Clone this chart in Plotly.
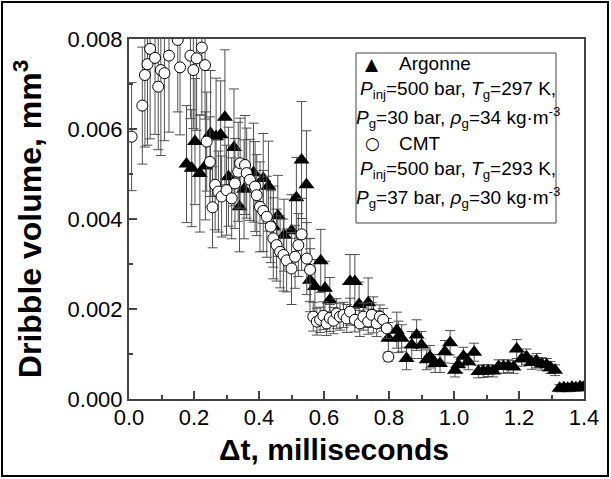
import plotly.graph_objects as go

# ---------------- data ----------------
cmt_t = [0.008, 0.041, 0.049, 0.057, 0.065, 0.080, 0.090, 0.098, 0.109, 0.123,
         0.150, 0.157, 0.189, 0.198, 0.208, 0.224, 0.234,
         0.239, 0.249, 0.257, 0.265, 0.275, 0.285, 0.300, 0.316, 0.326, 0.336,
         0.342, 0.357, 0.362, 0.372, 0.388, 0.393, 0.403, 0.413, 0.424, 0.436,
         0.444, 0.454, 0.465, 0.475, 0.485, 0.500, 0.511, 0.521, 0.531, 0.547,
         0.557,
         0.567, 0.578, 0.588, 0.598, 0.608, 0.618, 0.629, 0.639, 0.649, 0.660,
         0.670, 0.680, 0.695, 0.710, 0.721, 0.736, 0.747, 0.762, 0.772, 0.782,
         0.793, 0.798]
cmt_v = [0.00583, 0.00652, 0.00720, 0.00744, 0.00778, 0.00758, 0.00694, 0.00731, 0.00724, 0.00763,
         0.00798, 0.00737, 0.00763, 0.00731, 0.00757, 0.00781, 0.00742,
         0.00572, 0.00527, 0.00426, 0.00476, 0.00461, 0.00450, 0.00464, 0.00446, 0.00479, 0.00505,
         0.00524, 0.00520, 0.00502, 0.00487, 0.00472, 0.00453, 0.00427, 0.00418, 0.00405, 0.00383,
         0.00357, 0.00342, 0.00327, 0.00320, 0.00308, 0.00290, 0.00316, 0.00342, 0.00366, 0.00312,
         0.00287,
         0.00183, 0.00172, 0.00176, 0.00185, 0.00168, 0.00180, 0.00174, 0.00190, 0.00183, 0.00187,
         0.00179, 0.00194, 0.00176, 0.00168, 0.00183, 0.00172, 0.00187, 0.00168, 0.00183, 0.00176,
         0.00157, 0.00094]
cmt_err = [0.0012, 0.0013, 0.0016, 0.0018, 0.0020, 0.0017, 0.0014, 0.0019, 0.0015, 0.0017,
           0.0016, 0.0015, 0.0014, 0.0013, 0.0016, 0.0015, 0.0012,
           0.0011, 0.0010, 0.0009, 0.0010, 0.0009, 0.0009, 0.0010, 0.0009, 0.0010, 0.0011,
           0.0010, 0.0011, 0.0010, 0.0009, 0.0010, 0.0009, 0.0010, 0.0009, 0.0009, 0.0008,
           0.0009, 0.0008, 0.0008, 0.0008, 0.0007, 0.0008, 0.0007, 0.0007, 0.0008, 0.0008,
           0.0007,
           0.00032, 0.00030, 0.00028, 0.00031, 0.00027, 0.00030, 0.00029, 0.00033, 0.00030, 0.00028,
           0.00031, 0.00030, 0.00027, 0.00029, 0.00030, 0.00028, 0.00027, 0.00029, 0.00026, 0.00025,
           0.00022, 0.00010]

arg_t = [0.177, 0.193, 0.203, 0.218, 0.235, 0.251, 0.268, 0.282, 0.295, 0.306,
         0.323, 0.340, 0.354, 0.383, 0.413, 0.429, 0.444, 0.458, 0.477, 0.500,
         0.515, 0.531, 0.546, 0.557, 0.572, 0.590, 0.603, 0.618, 0.680, 0.695,
         0.708, 0.736, 0.752, 0.798, 0.824, 0.829, 0.839, 0.854, 0.870, 0.885,
         0.900, 0.916, 0.926, 0.942, 0.957, 0.972, 0.988, 1.003, 1.013, 1.029,
         1.044, 1.062, 1.075, 1.090, 1.105, 1.120, 1.137, 1.152, 1.167, 1.183,
         1.193, 1.208, 1.223, 1.239, 1.254, 1.270, 1.285, 1.297, 1.311, 1.325,
         1.338, 1.350, 1.363, 1.375, 1.388, 1.398]
arg_v = [0.00522, 0.00513, 0.00572, 0.00501, 0.00518, 0.00590, 0.00583, 0.00587, 0.00626, 0.00494,
         0.00559, 0.00427, 0.00466, 0.00503, 0.00490, 0.00473, 0.00383, 0.00407, 0.00364, 0.00374,
         0.00447, 0.00531, 0.00476, 0.00264, 0.00250, 0.00307, 0.00246, 0.00220, 0.00261, 0.00261,
         0.00210, 0.00214, 0.00187, 0.00135, 0.00153, 0.00138, 0.00135, 0.00090, 0.00120, 0.00142,
         0.00120, 0.00087, 0.00094, 0.00079, 0.00079, 0.00105, 0.00125, 0.00064, 0.00076, 0.00095,
         0.00083, 0.00104, 0.00061, 0.00062, 0.00063, 0.00062, 0.00072, 0.00072, 0.00073, 0.00071,
         0.00111, 0.00089, 0.00094, 0.00081, 0.00085, 0.00078, 0.00076, 0.00070, 0.00064, 0.00024,
         0.00025, 0.00024, 0.00026, 0.00025, 0.00027, 0.00026]
arg_err = [0.0013, 0.0013, 0.0014, 0.0013, 0.0012, 0.0014, 0.0013, 0.0012, 0.0015, 0.0011,
           0.0013, 0.0010, 0.0011, 0.0011, 0.0010, 0.0010, 0.0009, 0.0009, 0.0008, 0.0008,
           0.0009, 0.0013, 0.0012, 0.0007, 0.0006, 0.0007, 0.0006, 0.0005, 0.0006, 0.0006,
           0.0005, 0.00055, 0.0004, 0.00035, 0.0004, 0.00035, 0.0003, 0.00025, 0.0003, 0.00034,
           0.0003, 0.00022, 0.00025, 0.0002, 0.0002, 0.00025, 0.00027, 0.00015, 0.00017, 0.0002,
           0.00018, 0.0002, 0.00014, 0.00014, 0.00013, 0.00013, 0.00015, 0.00015, 0.00014, 0.00014,
           0.00021, 0.00016, 0.00017, 0.00015, 0.00016, 0.00014, 0.00014, 0.00013, 0.00012, 0.00008,
           0.00008, 0.00008, 0.00008, 0.00008, 0.00008, 0.00008]

x_ticks = [0.0, 0.2, 0.4, 0.6, 0.8, 1.0, 1.2, 1.4]
y_ticks = [0.000, 0.002, 0.004, 0.006, 0.008]

legend_lines = [
    ("\u25B2", "Argonne"),
    "<i>P</i><sub>inj</sub>=500 bar, <i>T</i><sub>g</sub>=297 K,",
    "<i>P</i><sub>g</sub>=30 bar, <i>\u03C1</i><sub>g</sub>=34 kg\u00B7m<sup>-3</sup>",
    ("\u25CB", "CMT"),
    "<i>P</i><sub>inj</sub>=500 bar, <i>T</i><sub>g</sub>=293 K,",
    "<i>P</i><sub>g</sub>=37 bar, <i>\u03C1</i><sub>g</sub>=30 kg\u00B7m<sup>-3</sup>",
]

# ---------------- figure ----------------
FONT = "Liberation Sans, Arial, sans-serif"
W, H = 611, 479
L, R, T, B = 129, 27, 39, 80
pw, ph = W - L - R, H - T - B


def px2paper(px, py):
    return (px - L) / pw, (H - B - py) / ph


fig = go.Figure()
fig.add_trace(go.Scatter(
    x=arg_t, y=arg_v, mode="markers", name="Argonne",
    marker=dict(symbol="triangle-up", size=14, color="black"),
    error_y=dict(type="data", array=arg_err, color="#505050", thickness=1, width=5),
))
fig.add_trace(go.Scatter(
    x=cmt_t, y=cmt_v, mode="markers", name="CMT",
    marker=dict(symbol="circle", size=11, color="white", line=dict(color="black", width=1)),
    error_y=dict(type="data", array=cmt_err, color="#505050", thickness=1, width=5),
))

axis_common = dict(
    showline=True, linecolor="#444444", linewidth=2, mirror=True,
    showgrid=False, zeroline=False, ticks="inside", ticklen=8, tickwidth=1.5,
    tickcolor="#444444", tickfont=dict(family=FONT, size=22, color="black"),
)
fig.update_xaxes(
    range=[0, 1.4], tickvals=x_ticks, ticktext=[f"{v:.1f}" for v in x_ticks],
    minor=dict(dtick=0.1, ticks="inside", ticklen=4, tickcolor="#444444", tickwidth=1.5),
    ticklabelstandoff=-2,
    **axis_common,
)
fig.update_yaxes(
    range=[0, 0.008], tickvals=y_ticks, ticktext=[f"{v:.3f}" for v in y_ticks],
    minor=dict(dtick=0.001, ticks="inside", ticklen=4, tickcolor="#444444", tickwidth=1.5),
    title=dict(text="<b>Dribble volume, mm<sup>3</sup></b>", font=dict(family=FONT, size=32, color="black"),
               standoff=16),
    **axis_common,
)

shapes = []
# outer frame of the whole picture
x0, y0 = px2paper(2, 476)
x1, y1 = px2paper(608, 2)
shapes.append(dict(type="rect", xref="paper", yref="paper", x0=x0, y0=y0, x1=x1, y1=y1,
                   line=dict(color="black", width=2), layer="above"))
# legend box
x0, y0 = px2paper(356, 223)
x1, y1 = px2paper(556, 53)
shapes.append(dict(type="rect", xref="paper", yref="paper", x0=x0, y0=y0, x1=x1, y1=y1,
                   line=dict(color="#444444", width=1), fillcolor="white", layer="above"))

annotations = []
# x-axis title
xt, yt = px2paper(334, 449)
annotations.append(dict(x=xt, y=yt, xref="paper", yref="paper", text="<b>\u0394t, milliseconds</b>",
                        showarrow=False, xanchor="center", yanchor="middle",
                        font=dict(family=FONT, size=30, color="black")))
row_y = [64, 90, 117, 143, 170, 197]
for line, py in zip(legend_lines, row_y):
    if isinstance(line, tuple):
        sym, label = line
        xs, ys = px2paper(372, py)
        annotations.append(dict(x=xs, y=ys, xref="paper", yref="paper", text=sym, showarrow=False,
                                xanchor="center", yanchor="middle",
                                font=dict(family="DejaVu Sans", size=17, color="black")))
        xl, yl = px2paper(397, py)
        annotations.append(dict(x=xl, y=yl, xref="paper", yref="paper", text=label, showarrow=False,
                                xanchor="left", yanchor="middle",
                                font=dict(family=FONT, size=19, color="black")))
    else:
        xc, yc = px2paper(458, py)
        annotations.append(dict(x=xc, y=yc, xref="paper", yref="paper", text=line, showarrow=False,
                                xanchor="center", yanchor="middle",
                                font=dict(family=FONT, size=19, color="black")))

fig.update_layout(
    width=W, height=H,
    margin=dict(l=L, r=R, t=T, b=B, autoexpand=False),
    paper_bgcolor="white", plot_bgcolor="white",
    showlegend=False,
    shapes=shapes, annotations=annotations,
    font=dict(family=FONT, color="black"),
)

fig.write_html(
    "out.html",
    config={"displayModeBar": False},
    post_script="document.body.style.margin='0';document.body.style.padding='0';",
)
